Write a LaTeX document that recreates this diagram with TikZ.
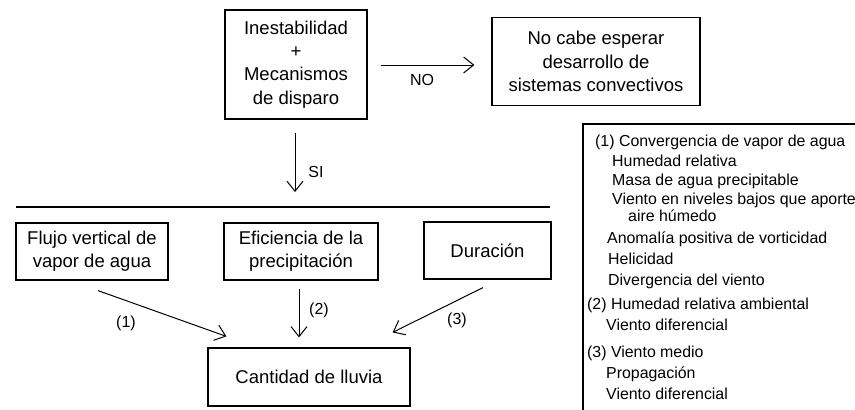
\documentclass[tikz,border=0pt]{standalone}
\usepackage{fontspec}
\setmainfont{Liberation Sans}
\usetikzlibrary{arrows.meta}
\begin{document}
\begin{tikzpicture}[x=1pt,y=-1pt,
  box/.style={draw, line width=1.2pt, align=center, inner sep=0pt, font=\fontsize{18.5}{23.3}\selectfont},
  arr/.style={line width=1pt, -{Straight Barb[length=10pt,width=16pt,line width=1pt]}},
  lbl/.style={font=\fontsize{16}{18}\selectfont, inner sep=0pt},
  leg/.style={font=\fontsize{15.9}{18}\selectfont, anchor=base west, inner sep=0pt}]
\useasboundingbox (0,0) rectangle (855,410);
\clip (0,0) rectangle (855,410);
% boxes
\node[box, minimum width=142pt, minimum height=109pt] (top) at (296,64.5) {Inestabilidad\\+\\Mecanismos\\de disparo};
\node[box, minimum width=208pt, minimum height=88pt] (nocabe) at (596,61.5) {No cabe esperar\\desarrollo de\\sistemas convectivos};
\node[box, minimum width=152pt, minimum height=57pt] (flujo) at (92,251.5) {Flujo vertical de\\vapor de agua};
\node[box, minimum width=154pt, minimum height=57pt] (eff) at (301,251.5) {Eficiencia de la\\precipitación};
\node[box, minimum width=127pt, minimum height=57pt] (dur) at (487.5,250.5) {Duración};
\node[box, minimum width=202pt, minimum height=58pt] (cant) at (309,377) {Cantidad de lluvia};
% horizontal rule
\coordinate (hl) at (16,207);
\coordinate (hr) at (550,207);
\draw[line width=1.2pt] (hl) -- (hr);
% arrows
\coordinate (siend) at (295,192);
\draw[arr] ([shift={(-1,13)}]top.south) -- (siend);
\draw[arr] ([shift={(13,0.5)}]top.east) -- ([shift={(-17,3.5)}]nocabe.west);
\draw[arr] ([shift={(6,10)}]flujo.south) -- ([shift={(19,-11)}]cant.north west);
\draw[arr] ([shift={(-2,8)}]eff.south) -- ([shift={(-10,-10)}]cant.north);
\draw[arr] ([shift={(-4.5,8)}]dur.south) -- ([shift={(-18,-15)}]cant.north east);
% labels
\node[lbl] (no) at (422,80) {NO};
\node[lbl] (si) at (316,172) {SI};
\node[lbl] (l1) at (126,323) {(1)};
\node[lbl] (l2) at (319,310) {(2)};
\node[lbl] (l3) at (457,320) {(3)};
% legend
\draw[line width=1.2pt] (583,124) rectangle (880,440);
\node[leg] (g1) at (595,146) {(1) Convergencia de vapor de agua};
\node[leg] (g2) at (612,166) {Humedad relativa};
\node[leg] (g3) at (612,185) {Masa de agua precipitable};
\node[leg] (g4) at (612,204) {Viento en niveles bajos que aporte};
\node[leg] (g5) at (628,221) {aire húmedo};
\node[leg] (g6) at (607,243) {Anomalía positiva de vorticidad};
\node[leg] (g7) at (608,264) {Helicidad};
\node[leg] (g8) at (608,285) {Divergencia del viento};
\node[leg] (g9) at (587,309) {(2) Humedad relativa ambiental};
\node[leg] (g10) at (606,330) {Viento diferencial};
\node[leg] (g11) at (587,357) {(3) Viento medio};
\node[leg] (g12) at (606,378) {Propagación};
\node[leg] (g13) at (606,399) {Viento diferencial};
\end{tikzpicture}
\end{document}
